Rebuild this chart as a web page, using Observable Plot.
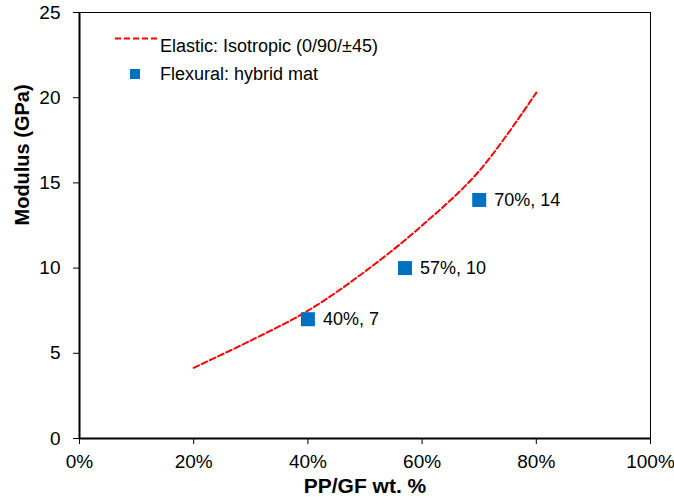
<!DOCTYPE html>
<html>
<head>
<meta charset="utf-8">
<script src="https://cdn.jsdelivr.net/npm/d3@7"></script>
<script src="https://cdn.jsdelivr.net/npm/@observablehq/plot@0.6"></script>
<style>
  html, body { margin: 0; padding: 0; background: #fff; }
</style>
</head>
<body>
<div id="chart"></div>
<script>
// Elastic: Isotropic (0/90/±45) curve
const elasticX = [20, 30, 40, 50, 60, 70, 80];
const elasticY = [4.15, 5.75, 7.5, 9.8, 12.5, 15.7, 20.3];
// Flexural: hybrid mat points
const flexX = [40, 57, 70];
const flexY = [7, 10, 14];
const flexLabels = ["40%, 7", "57%, 10", "70%, 14"];
// Axis ticks
const xTicks = [0, 20, 40, 60, 80, 100];
const yTicks = [0, 5, 10, 15, 20, 25];
const seriesNames = ["Elastic: Isotropic (0/90/±45)", "Flexural: hybrid mat"];
const xTitle = "PP/GF wt. %";
const yTitle = "Modulus (GPa)";

const elastic = elasticX.map((x, i) => ({x, y: elasticY[i]}));
const flex = flexX.map((x, i) => ({x, y: flexY[i], label: flexLabels[i]}));

const font = "'Liberation Sans', Arial, sans-serif";

const svg = Plot.plot({
  width: 674,
  height: 504,
  marginLeft: 79,
  marginRight: 24,
  marginTop: 12,
  marginBottom: 66,
  style: {fontFamily: font, fontSize: "18px", color: "#000", background: "#fff", overflow: "visible"},
  x: {domain: [0, 100]},
  y: {domain: [0, 25]},
  marks: [
    Plot.frame({stroke: "#000", strokeWidth: 1}),
    Plot.axisX({ticks: xTicks, tickFormat: d => d + "%", tickSize: 6, tickPadding: 10, label: null, fontSize: 19, strokeWidth: 1}),
    Plot.axisY({ticks: yTicks, tickSize: 6, tickPadding: 13, label: null, fontSize: 19, strokeWidth: 1}),
    Plot.ruleX([0], {stroke: "#000", strokeWidth: 2}),
    Plot.ruleY([0], {stroke: "#000", strokeWidth: 2}),
    Plot.line(elastic, {x: "x", y: "y", stroke: "#FF0000", strokeWidth: 2, strokeDasharray: "6,3", curve: "catmull-rom"}),
    Plot.dot(flex, {x: "x", y: "y", symbol: "square", r: 7.9, fill: "#0070C0", stroke: "none"}),
    Plot.text(flex, {x: "x", y: "y", text: "label", dx: 15, textAnchor: "start", fontSize: 18, fill: "#000"}),
    Plot.text([xTitle], {frameAnchor: "bottom", dy: 54, fontWeight: "bold", fontSize: 21, fill: "#000"}),
    Plot.text([yTitle], {frameAnchor: "left", dx: -57, rotate: -90, fontWeight: "bold", fontSize: 20, fill: "#000"})
  ]
});

// Legend inside the plot area
const g = d3.select(svg).append("g")
  .attr("font-family", font).attr("font-size", 18).attr("text-anchor", "start");
g.append("line").attr("x1", 115).attr("x2", 158).attr("y1", 38.5).attr("y2", 38.5)
  .attr("stroke", "#FF0000").attr("stroke-width", 2).attr("stroke-dasharray", "6,3");
g.append("text").attr("x", 160).attr("y", 46).attr("dy", "0.35em").attr("text-anchor", "start").attr("fill", "#000").text(seriesNames[0]);
g.append("rect").attr("x", 130).attr("y", 69).attr("width", 10).attr("height", 10).attr("fill", "#0070C0");
g.append("text").attr("x", 160).attr("y", 74).attr("dy", "0.35em").attr("text-anchor", "start").attr("fill", "#000").text(seriesNames[1]);

document.getElementById("chart").appendChild(svg);
</script>
</body>
</html>
